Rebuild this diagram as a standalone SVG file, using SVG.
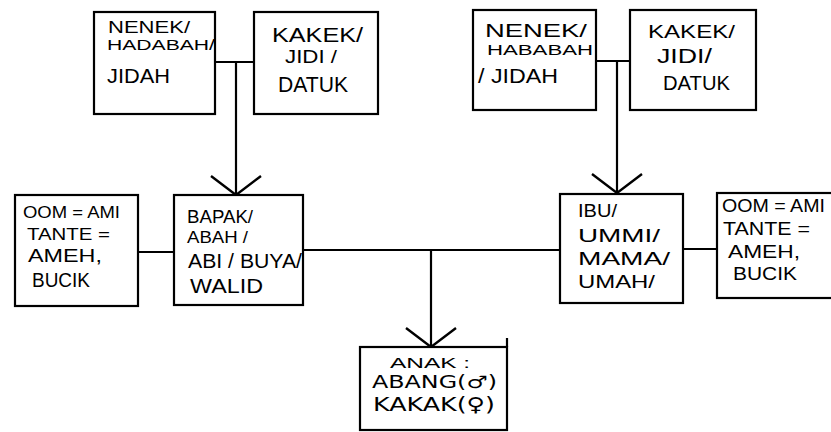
<svg xmlns="http://www.w3.org/2000/svg" width="831" height="432" viewBox="0 0 831 432">
<style>
.box{fill:#fff;stroke:#000;stroke-width:2.2}
.ln{fill:none;stroke:#000;stroke-width:2.2}
text{font-family:"Liberation Sans","DejaVu Sans",sans-serif;font-size:19px;fill:#000}
.sym{font-family:"DejaVu Sans","Liberation Sans",sans-serif}
</style>
<defs>
<marker id="v" markerUnits="userSpaceOnUse" markerWidth="60" markerHeight="60" refX="0" refY="0" viewBox="-30 -30 60 60" orient="auto" overflow="visible">
<path d="M-19,-25 L0,0 L-19,25" fill="none" stroke="#000" stroke-width="2.4"/>
</marker>
</defs>
<rect width="831" height="432" fill="#fff"/>
<g id="connectors">
<path class="ln" d="M215,62 H254"/>
<path class="ln" d="M236,62 V195" marker-end="url(#v)"/>
<path class="ln" d="M596,61 H630"/>
<path class="ln" d="M617,61 V193" marker-end="url(#v)"/>
<path class="ln" d="M138,252 H174"/>
<path class="ln" d="M303,250 H560"/>
<path class="ln" d="M683,249 H717"/>
<path class="ln" d="M431,250 V347" marker-end="url(#v)"/>
</g>
<g id="nenek-left">
<rect class="box" x="94" y="12" width="121" height="102"/>
<text x="108" y="33" textLength="82" lengthAdjust="spacingAndGlyphs" style="font-size:17px">NENEK/</text>
<text x="107" y="50" textLength="108" lengthAdjust="spacingAndGlyphs" style="font-size:14px">HADABAH/</text>
<text x="107" y="83" textLength="63" lengthAdjust="spacingAndGlyphs" style="font-size:20px">JIDAH</text>
</g>
<g id="kakek-left">
<rect class="box" x="254" y="12" width="124" height="102"/>
<text x="272" y="42" textLength="91" lengthAdjust="spacingAndGlyphs" style="font-size:20px">KAKEK/</text>
<text x="285" y="63" textLength="52" lengthAdjust="spacingAndGlyphs" style="font-size:18px">JIDI /</text>
<text x="278" y="92" textLength="70" lengthAdjust="spacingAndGlyphs" style="font-size:22px">DATUK</text>
</g>
<g id="nenek-right">
<rect class="box" x="473" y="10" width="123" height="100"/>
<text x="485" y="37" textLength="102" lengthAdjust="spacingAndGlyphs" style="font-size:19px">NENEK/</text>
<text x="487" y="55" textLength="106" lengthAdjust="spacingAndGlyphs" style="font-size:15px">HABABAH</text>
<text x="478" y="83" textLength="80" lengthAdjust="spacingAndGlyphs" style="font-size:21px">/ JIDAH</text>
</g>
<g id="kakek-right">
<rect class="box" x="630" y="10" width="126" height="100"/>
<text x="648" y="38" textLength="87" lengthAdjust="spacingAndGlyphs" style="font-size:19px">KAKEK/</text>
<text x="657" y="63" textLength="55" lengthAdjust="spacingAndGlyphs" style="font-size:20px">JIDI/</text>
<text x="663" y="90" textLength="67" lengthAdjust="spacingAndGlyphs" style="font-size:21px">DATUK</text>
</g>
<g id="oom-left">
<rect class="box" x="15" y="195" width="123" height="111"/>
<text x="23" y="218" textLength="97" lengthAdjust="spacingAndGlyphs" style="font-size:16px">OOM = AMI</text>
<text x="27" y="240" textLength="83" lengthAdjust="spacingAndGlyphs" style="font-size:17px">TANTE =</text>
<text x="28" y="262" textLength="74" lengthAdjust="spacingAndGlyphs" style="font-size:19px">AMEH,</text>
<text x="32" y="287" textLength="58" lengthAdjust="spacingAndGlyphs" style="font-size:20px">BUCIK</text>
</g>
<g id="bapak">
<rect class="box" x="174" y="195" width="129" height="110"/>
<text x="187" y="223" textLength="66" lengthAdjust="spacingAndGlyphs" style="font-size:19px">BAPAK/</text>
<text x="187" y="243" textLength="61" lengthAdjust="spacingAndGlyphs" style="font-size:17px">ABAH /</text>
<text x="188" y="268" textLength="114" lengthAdjust="spacingAndGlyphs" style="font-size:20px">ABI / BUYA/</text>
<text x="190" y="293" textLength="73" lengthAdjust="spacingAndGlyphs" style="font-size:20px">WALID</text>
</g>
<g id="ibu">
<rect class="box" x="560" y="194" width="123" height="109"/>
<text x="578" y="217" textLength="39" lengthAdjust="spacingAndGlyphs" style="font-size:18px">IBU/</text>
<text x="578" y="242" textLength="82" lengthAdjust="spacingAndGlyphs" style="font-size:19px">UMMI/</text>
<text x="578" y="265" textLength="92" lengthAdjust="spacingAndGlyphs" style="font-size:19px">MAMA/</text>
<text x="578" y="288" textLength="77" lengthAdjust="spacingAndGlyphs" style="font-size:19px">UMAH/</text>
</g>
<g id="oom-right">
<rect class="box" x="717" y="193" width="120" height="105"/>
<text x="722" y="212" textLength="103" lengthAdjust="spacingAndGlyphs" style="font-size:18px">OOM = AMI</text>
<text x="723" y="235" textLength="87" lengthAdjust="spacingAndGlyphs" style="font-size:19px">TANTE =</text>
<text x="728" y="258" textLength="72" lengthAdjust="spacingAndGlyphs" style="font-size:19px">AMEH,</text>
<text x="733" y="280" textLength="64" lengthAdjust="spacingAndGlyphs" style="font-size:18px">BUCIK</text>
</g>
<g id="anak">
<rect class="box" x="360" y="347" width="147" height="83"/>
<path class="ln" d="M507,347 V338"/>
<text x="390" y="368" textLength="80" lengthAdjust="spacingAndGlyphs" style="font-size:14px">ANAK :</text>
<text class="sym" x="372" y="388" textLength="125" lengthAdjust="spacingAndGlyphs" style="font-size:17px">ABANG(♂)</text>
<text class="sym" x="373" y="411" textLength="122" lengthAdjust="spacingAndGlyphs" style="font-size:19px">KAKAK(♀)</text>
</g>
</svg>
